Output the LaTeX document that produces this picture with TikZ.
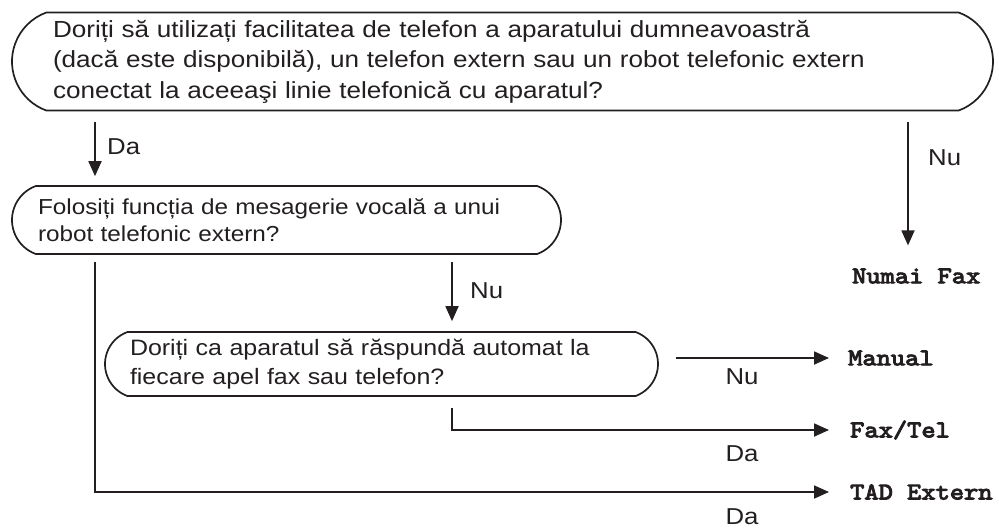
\documentclass[tikz,border=0pt]{standalone}
\usepackage{fontspec}
\setmainfont{Liberation Sans}[FakeStretch=1.12]
\setmonofont{lmmono10-regular.otf}[FakeBold=4,FakeStretch=1.13]
\usetikzlibrary{arrows.meta,positioning,shapes.misc}
\definecolor{flowInk}{HTML}{231F20}

\begin{document}
\begin{tikzpicture}[
  x=1pt,
  y=-1pt,
  question/.style={
    rounded rectangle,
    rounded rectangle arc length=140,
    draw=flowInk,
    line width=1.7pt,
    align=left,
    inner sep=0pt,
    text=flowInk,
    font=\fontsize{22.3}{29}\selectfont
  },
  result/.style={
    anchor=west,
    inner sep=0pt,
    text=flowInk,
    font=\ttfamily\fontsize{24}{24}\selectfont
  },
  answer/.style={
    inner sep=0pt,
    text=flowInk,
    font=\fontsize{23}{23}\selectfont
  },
  flow/.style={-{Triangle[length=15pt,width=13pt]}, draw=flowInk, line width=1.8pt}
]

\path[use as bounding box] (0,0) rectangle (999,531);

% questions
\node[question, minimum width=981pt, minimum height=98pt, text width=899pt, font=\fontsize{23.3}{30.5}\selectfont] (phone) at (502.5,61.5)
  {Doriți să utilizați facilitatea de telefon a aparatului dumneavoastră\\
   (dacă este disponibilă), un telefon extern sau un robot telefonic extern\\
   conectat la aceeaşi linie telefonică cu aparatul?};
\node[question, minimum width=549pt, minimum height=68pt, text width=497pt, font=\fontsize{21.7}{27}\selectfont] (voice) at (286.5,220)
  {Folosiți funcția de mesagerie vocală a unui\\
   robot telefonic extern?};
\node[question, minimum width=553pt, minimum height=64pt, text width=503pt] (auto) at (381.5,364)
  {Doriți ca aparatul să răspundă automat la\\
   fiecare apel fax sau telefon?};

% results
\node[result] (fax) at (852,276) {Numai Fax};
\node[result] (manual) at (848,358) {Manual};
\node[result] (faxtel) at (850,430) {Fax/Tel};
\node[result] (tad) at (850,492) {TAD Extern};

% free ends
\coordinate (yesA) at (95,122);
\coordinate (noA) at (908,122);
\coordinate (yesB) at (95,262);
\coordinate (noB) at (452,262);
\coordinate (yesC) at (452,408);

\draw[flow, shorten >=9pt] (yesA) -- (yesA |- voice.north);
\draw[flow, shorten >=23pt] (noA) -- (noA |- fax.north);
\draw[flow, shorten >=10pt] (noB) -- (noB |- auto.north);
\draw[flow, shorten <=17pt, shorten >=19pt] (auto.east |- manual.west) -- (manual.west);
\draw[flow, shorten >=21pt] (yesC) |- (faxtel.west);
\draw[flow, shorten >=21pt] (yesB) |- (tad.west);

\node[answer, anchor=west] (daA) at (107,147) {Da};
\node[answer, anchor=west] (nuA) at (928,158) {Nu};
\node[answer, anchor=west] (nuB) at (470,291) {Nu};
\node[answer] (nuC) at (742,377) {Nu};
\node[answer] (daC) at (742,454) {Da};
\node[answer] (daB) at (742,517) {Da};
\end{tikzpicture}
\end{document}
